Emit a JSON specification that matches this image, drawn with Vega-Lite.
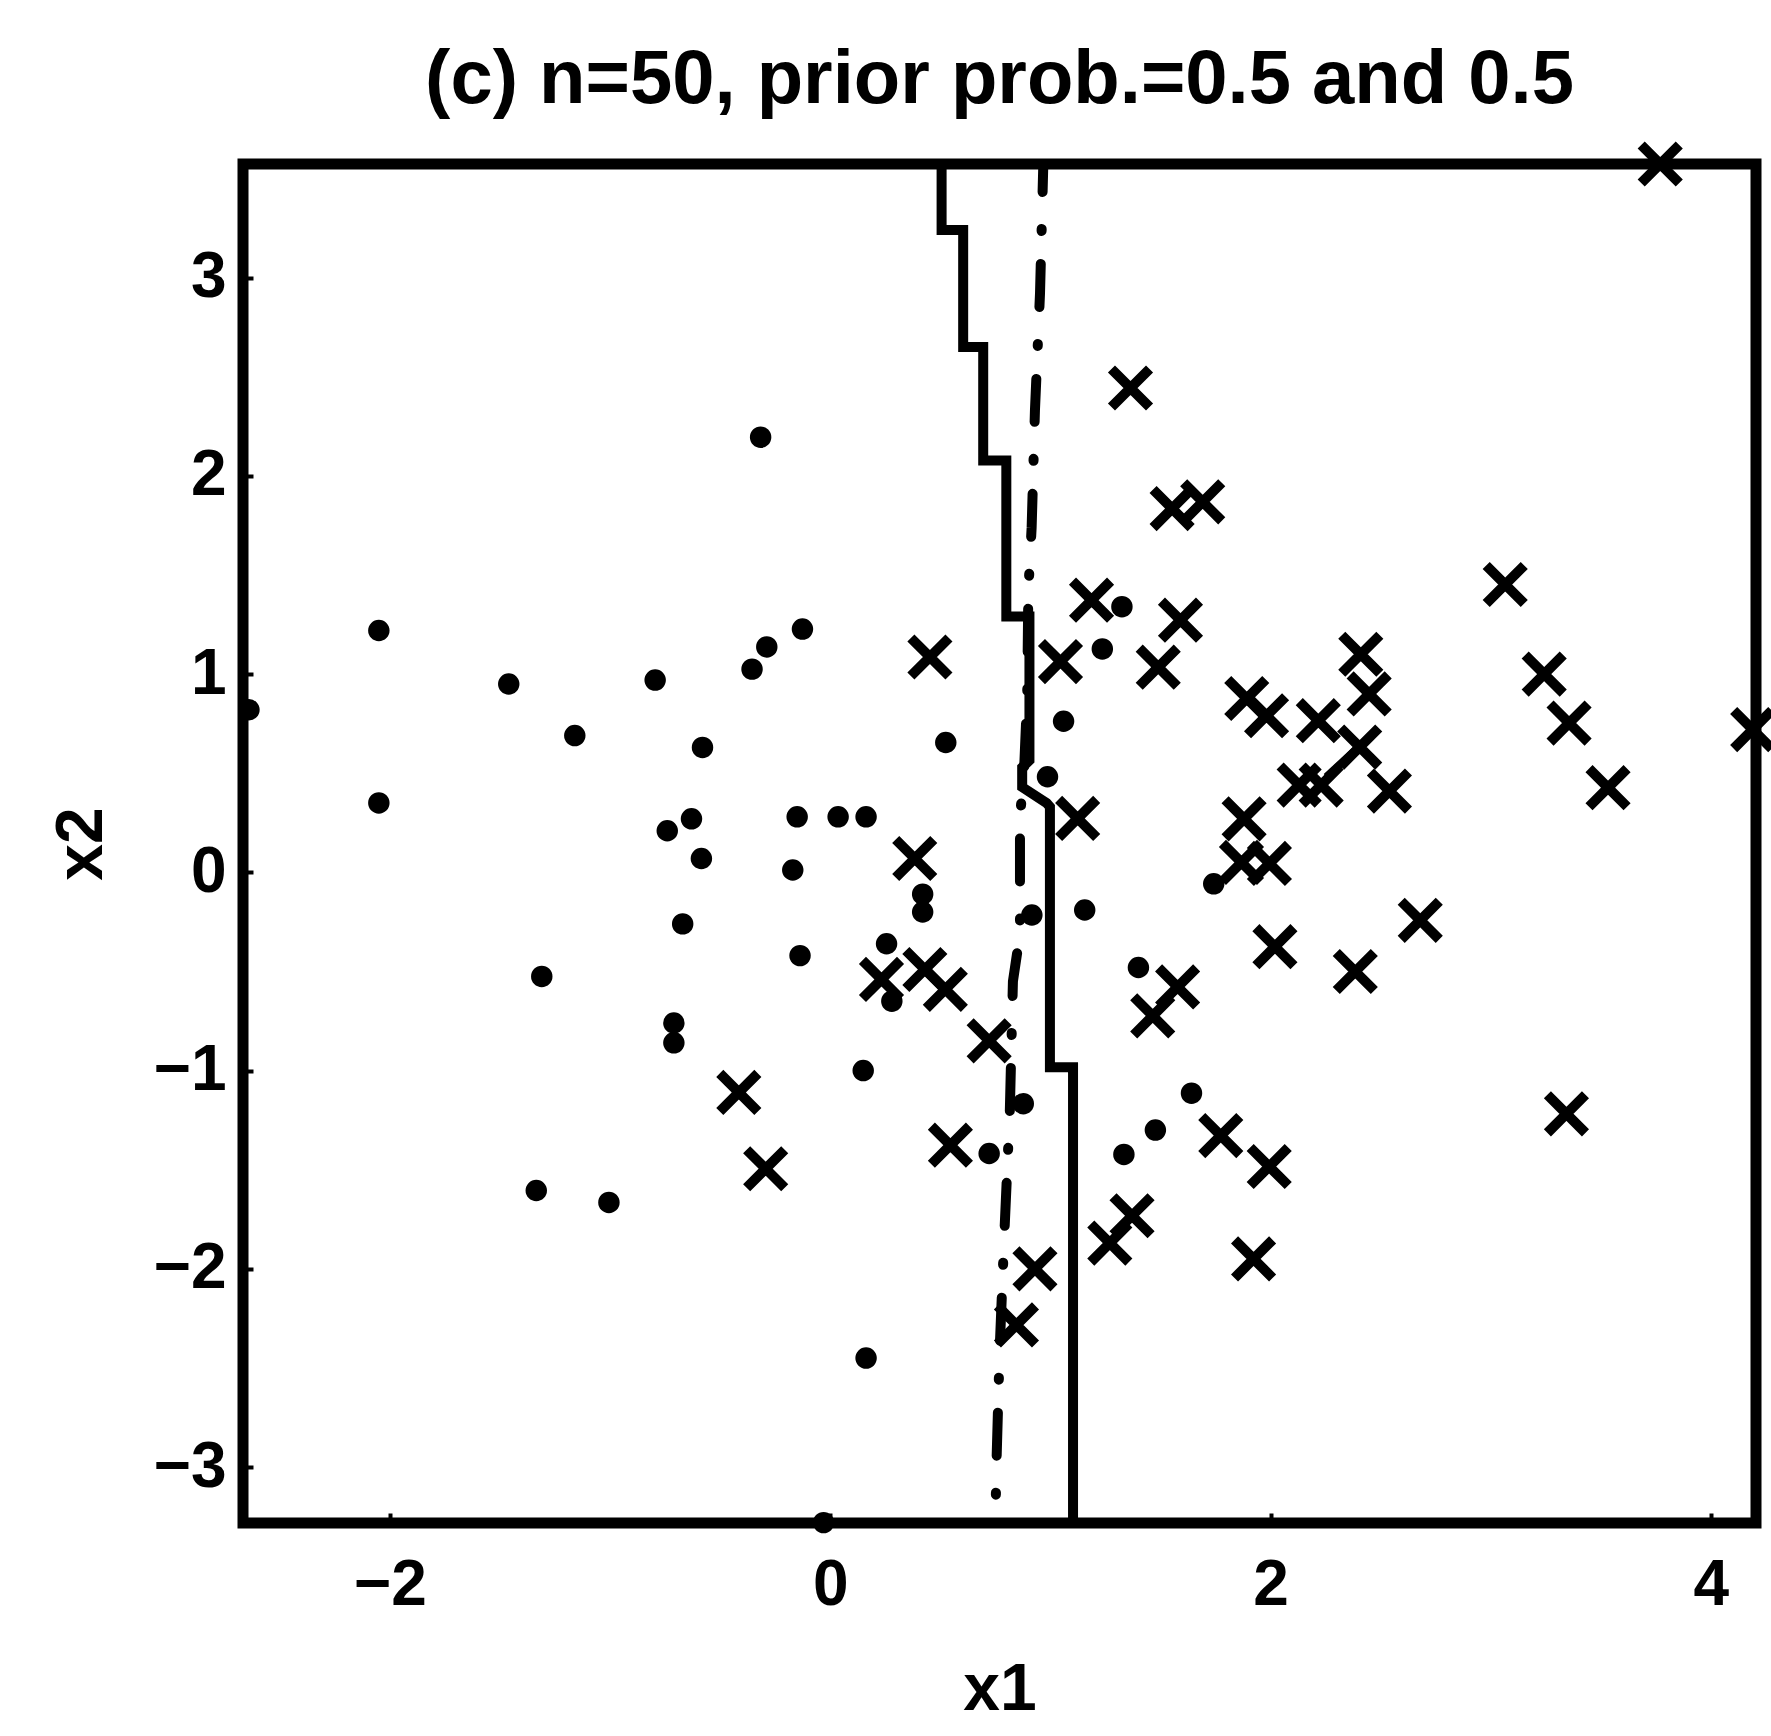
{
  "$schema": "https://vega.github.io/schema/vega-lite/v6.json",
  "width": 1513,
  "height": 1359,
  "autosize": {"type": "none"},
  "padding": {"left": 243, "top": 164, "right": 15, "bottom": 213},
  "background": "white",
  "title": {"text": "(c) n=50, prior prob.=0.5 and 0.5", "font": "Liberation Sans", "fontSize": 76, "fontWeight": "bold", "color": "black", "anchor": "middle", "frame": "group", "baseline": "bottom", "offset": -70},
  "config": {
    "view": {"stroke": "black", "strokeWidth": 11},
    "axis": {"domain": false, "grid": false, "ticks": true, "tickSize": -10, "tickWidth": 4, "tickColor": "black",
      "labelFont": "Liberation Sans", "labelFontSize": 64, "labelFontWeight": "bold", "labelColor": "black",
      "titleFont": "Liberation Sans", "titleFontSize": 66, "titleFontWeight": "bold", "titleColor": "black"}
  },
  "datasets": {
    "points": [
      {"class": "dot", "x1": -2.05, "x2": 1.22},
      {"class": "dot", "x1": -2.05, "x2": 0.35},
      {"class": "dot", "x1": -1.46, "x2": 0.95},
      {"class": "dot", "x1": -1.16, "x2": 0.69},
      {"class": "dot", "x1": -1.31, "x2": -0.525},
      {"class": "dot", "x1": -1.335, "x2": -1.605},
      {"class": "dot", "x1": -1.005, "x2": -1.665},
      {"class": "dot", "x1": -0.795, "x2": 0.97},
      {"class": "dot", "x1": -0.58, "x2": 0.63},
      {"class": "dot", "x1": -0.74, "x2": 0.21},
      {"class": "dot", "x1": -0.63, "x2": 0.27},
      {"class": "dot", "x1": -0.585, "x2": 0.07},
      {"class": "dot", "x1": -0.67, "x2": -0.26},
      {"class": "dot", "x1": -0.71, "x2": -0.76},
      {"class": "dot", "x1": -0.71, "x2": -0.86},
      {"class": "dot", "x1": -0.316, "x2": 2.195},
      {"class": "dot", "x1": -0.355, "x2": 1.025},
      {"class": "dot", "x1": -0.288, "x2": 1.137},
      {"class": "dot", "x1": -0.126, "x2": 1.227},
      {"class": "dot", "x1": -0.15, "x2": 0.28},
      {"class": "dot", "x1": 0.036, "x2": 0.28},
      {"class": "dot", "x1": 0.163, "x2": 0.28},
      {"class": "dot", "x1": -0.17, "x2": 0.012},
      {"class": "dot", "x1": -0.137, "x2": -0.42},
      {"class": "dot", "x1": 0.15, "x2": -1.0},
      {"class": "dot", "x1": 0.163, "x2": -2.45},
      {"class": "dot", "x1": 0.256, "x2": -0.36},
      {"class": "dot", "x1": 0.28, "x2": -0.65},
      {"class": "dot", "x1": 0.42, "x2": -0.11},
      {"class": "dot", "x1": 0.42, "x2": -0.2},
      {"class": "dot", "x1": 0.525, "x2": 0.655},
      {"class": "dot", "x1": 0.722, "x2": -1.418},
      {"class": "dot", "x1": 0.877, "x2": -1.167},
      {"class": "dot", "x1": 0.916, "x2": -0.215},
      {"class": "dot", "x1": 0.987, "x2": 0.482},
      {"class": "dot", "x1": 1.06, "x2": 0.762},
      {"class": "dot", "x1": 1.236, "x2": 1.127},
      {"class": "dot", "x1": 1.325, "x2": 1.34},
      {"class": "dot", "x1": 1.156, "x2": -0.19},
      {"class": "dot", "x1": 1.4, "x2": -0.48},
      {"class": "dot", "x1": 1.477, "x2": -1.3},
      {"class": "dot", "x1": 1.334, "x2": -1.423},
      {"class": "dot", "x1": 1.641, "x2": -1.114},
      {"class": "dot", "x1": 1.742, "x2": -0.058},
      {"class": "dot", "x1": -2.64, "x2": 0.82},
      {"class": "dot", "x1": -0.03, "x2": -3.28},
      {"class": "cross", "x1": 3.77, "x2": 3.573},
      {"class": "cross", "x1": 1.364, "x2": 2.443},
      {"class": "cross", "x1": 1.553, "x2": 1.835},
      {"class": "cross", "x1": 1.692, "x2": 1.869},
      {"class": "cross", "x1": 1.187, "x2": 1.373},
      {"class": "cross", "x1": 1.591, "x2": 1.272},
      {"class": "cross", "x1": 1.49, "x2": 1.035},
      {"class": "cross", "x1": 1.046, "x2": 1.063},
      {"class": "cross", "x1": 0.453, "x2": 1.086},
      {"class": "cross", "x1": 3.066, "x2": 1.452},
      {"class": "cross", "x1": 3.243, "x2": 1.0},
      {"class": "cross", "x1": 3.356, "x2": 0.753},
      {"class": "cross", "x1": 3.533, "x2": 0.427},
      {"class": "cross", "x1": 4.19, "x2": 0.72},
      {"class": "cross", "x1": 2.41, "x2": 1.1},
      {"class": "cross", "x1": 2.448, "x2": 0.9},
      {"class": "cross", "x1": 1.892, "x2": 0.877},
      {"class": "cross", "x1": 1.982, "x2": 0.79},
      {"class": "cross", "x1": 2.217, "x2": 0.765},
      {"class": "cross", "x1": 2.405, "x2": 0.632},
      {"class": "cross", "x1": 2.13, "x2": 0.44},
      {"class": "cross", "x1": 2.23, "x2": 0.44},
      {"class": "cross", "x1": 2.54, "x2": 0.41},
      {"class": "cross", "x1": 1.124, "x2": 0.272},
      {"class": "cross", "x1": 1.88, "x2": 0.27},
      {"class": "cross", "x1": 1.868, "x2": 0.05},
      {"class": "cross", "x1": 1.995, "x2": 0.045},
      {"class": "cross", "x1": 0.384, "x2": 0.07},
      {"class": "cross", "x1": 2.68, "x2": -0.242},
      {"class": "cross", "x1": 2.02, "x2": -0.375},
      {"class": "cross", "x1": 2.385, "x2": -0.5},
      {"class": "cross", "x1": 1.578, "x2": -0.578},
      {"class": "cross", "x1": 1.465, "x2": -0.724},
      {"class": "cross", "x1": 0.233, "x2": -0.54},
      {"class": "cross", "x1": 0.43, "x2": -0.49},
      {"class": "cross", "x1": 0.523, "x2": -0.59},
      {"class": "cross", "x1": 0.722, "x2": -0.85},
      {"class": "cross", "x1": -0.415, "x2": -1.11},
      {"class": "cross", "x1": -0.293, "x2": -1.495},
      {"class": "cross", "x1": 0.546, "x2": -1.376},
      {"class": "cross", "x1": 1.774, "x2": -1.328},
      {"class": "cross", "x1": 1.994, "x2": -1.484},
      {"class": "cross", "x1": 1.923, "x2": -1.95},
      {"class": "cross", "x1": 1.371, "x2": -1.732},
      {"class": "cross", "x1": 1.27, "x2": -1.87},
      {"class": "cross", "x1": 0.93, "x2": -2.0},
      {"class": "cross", "x1": 0.846, "x2": -2.283},
      {"class": "cross", "x1": 3.344, "x2": -1.218}
    ],
    "solid": [
      {"i": 0, "x1": 0.506, "x2": 3.573},
      {"i": 1, "x1": 0.506, "x2": 3.24},
      {"i": 2, "x1": 0.604, "x2": 3.24},
      {"i": 3, "x1": 0.604, "x2": 2.65},
      {"i": 4, "x1": 0.695, "x2": 2.65},
      {"i": 5, "x1": 0.695, "x2": 2.078},
      {"i": 6, "x1": 0.8, "x2": 2.078},
      {"i": 7, "x1": 0.8, "x2": 1.29},
      {"i": 8, "x1": 0.905, "x2": 1.29},
      {"i": 9, "x1": 0.905, "x2": 0.565},
      {"i": 10, "x1": 0.872, "x2": 0.53},
      {"i": 11, "x1": 0.872, "x2": 0.43},
      {"i": 12, "x1": 0.983, "x2": 0.35},
      {"i": 13, "x1": 0.998, "x2": 0.33},
      {"i": 14, "x1": 0.998, "x2": -0.983},
      {"i": 15, "x1": 1.103, "x2": -0.983},
      {"i": 16, "x1": 1.103, "x2": -3.282}
    ],
    "dashdot": [
      {"i": 0, "x1": 0.968, "x2": 3.573},
      {"i": 1, "x1": 0.953, "x2": 2.92},
      {"i": 2, "x1": 0.93, "x2": 2.33},
      {"i": 3, "x1": 0.915, "x2": 1.74},
      {"i": 4, "x1": 0.9, "x2": 1.42},
      {"i": 5, "x1": 0.895, "x2": 0.9},
      {"i": 6, "x1": 0.88, "x2": 0.5},
      {"i": 7, "x1": 0.862, "x2": 0.28},
      {"i": 8, "x1": 0.862, "x2": -0.31},
      {"i": 9, "x1": 0.83, "x2": -0.55},
      {"i": 10, "x1": 0.816, "x2": -1.2},
      {"i": 11, "x1": 0.79, "x2": -1.85},
      {"i": 12, "x1": 0.77, "x2": -2.4},
      {"i": 13, "x1": 0.756, "x2": -2.95},
      {"i": 14, "x1": 0.75, "x2": -3.282}
    ],
    "seg": [
      {"i": 0, "x1": 2.254, "x2": 0.481},
      {"i": 1, "x1": 2.467, "x2": 0.7}
    ]
  },
  "layer": [
    {
      "data": {"name": "solid"},
      "mark": {"type": "line", "color": "black", "strokeWidth": 10, "strokeJoin": "miter", "strokeCap": "butt", "clip": true},
      "encoding": {
        "x": {"field": "x1", "type": "quantitative", "scale": {"domain": [-2.667, 4.205], "nice": false, "zero": false},
          "axis": {"values": [-2, 0, 2, 4], "format": "d", "title": "x1", "labelPadding": 40, "titlePadding": 40}},
        "y": {"field": "x2", "type": "quantitative", "scale": {"domain": [-3.282, 3.573], "nice": false, "zero": false},
          "axis": {"values": [-3, -2, -1, 0, 1, 2, 3], "format": "d", "title": "x2", "labelPadding": 27, "titlePadding": 38}},
        "order": {"field": "i", "type": "quantitative"}
      }
    },
    {
      "data": {"name": "dashdot"},
      "mark": {"type": "line", "color": "black", "strokeWidth": 10, "strokeCap": "round", "strokeDash": [43, 37, 2, 33], "strokeDashOffset": 15, "clip": true},
      "encoding": {
        "x": {"field": "x1", "type": "quantitative", "scale": {"domain": [-2.667, 4.205], "nice": false, "zero": false}},
        "y": {"field": "x2", "type": "quantitative", "scale": {"domain": [-3.282, 3.573], "nice": false, "zero": false}},
        "order": {"field": "i", "type": "quantitative"}
      }
    },
    {
      "data": {"name": "seg"},
      "mark": {"type": "line", "color": "black", "strokeWidth": 8},
      "encoding": {
        "x": {"field": "x1", "type": "quantitative", "scale": {"domain": [-2.667, 4.205], "nice": false, "zero": false}},
        "y": {"field": "x2", "type": "quantitative", "scale": {"domain": [-3.282, 3.573], "nice": false, "zero": false}},
        "order": {"field": "i", "type": "quantitative"}
      }
    },
    {
      "data": {"name": "points"},
      "transform": [{"filter": "datum['class'] === 'dot'"}],
      "mark": {"type": "point", "shape": "circle", "filled": true, "color": "black", "size": 460, "opacity": 1},
      "encoding": {
        "x": {"field": "x1", "type": "quantitative", "scale": {"domain": [-2.667, 4.205], "nice": false, "zero": false}},
        "y": {"field": "x2", "type": "quantitative", "scale": {"domain": [-3.282, 3.573], "nice": false, "zero": false}}
      }
    },
    {
      "data": {"name": "points"},
      "transform": [{"filter": "datum['class'] === 'cross'"}],
      "mark": {"type": "point", "shape": "M-1,-1L1,1M-1,1L1,-1", "filled": false, "color": "black", "strokeWidth": 10, "size": 1450, "opacity": 1},
      "encoding": {
        "x": {"field": "x1", "type": "quantitative", "scale": {"domain": [-2.667, 4.205], "nice": false, "zero": false}},
        "y": {"field": "x2", "type": "quantitative", "scale": {"domain": [-3.282, 3.573], "nice": false, "zero": false}}
      }
    }
  ]
}
